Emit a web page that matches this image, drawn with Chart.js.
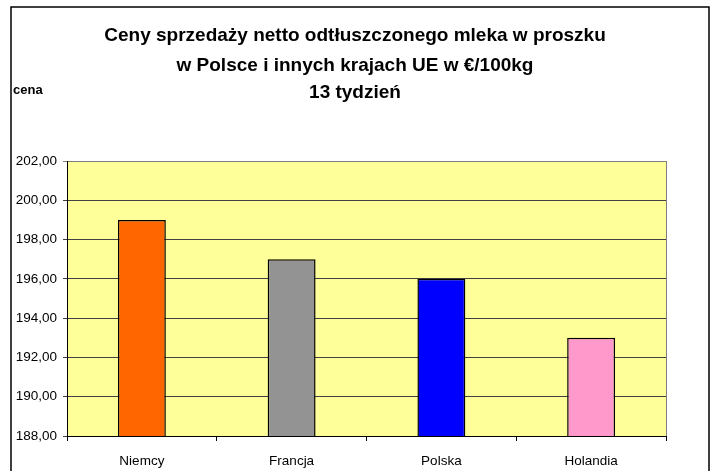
<!DOCTYPE html>
<html>
<head>
<meta charset="utf-8">
<script src="https://cdn.jsdelivr.net/npm/chart.js@4/dist/chart.umd.min.js"></script>
<style>
  html, body { margin: 0; padding: 0; background: #fff; }
  #wrap { width: 719px; height: 471px; position: relative; }
</style>
</head>
<body>
<div id="wrap"><canvas id="chart"></canvas></div>
<script>
// data
const countries = ['Niemcy', 'Francja', 'Polska', 'Holandia'];
const prices = [199, 197, 196, 193];
const barColors = ['#FF6600', '#939393', '#0000FF', '#FF99CC'];
const titleLines = [
    'Ceny sprzedaży netto odtłuszczonego mleka w proszku',
    'w Polsce i innych krajach UE w €/100kg',
    '13 tydzień'
];
const yLabel = 'cena';

const FONT = '"Liberation Sans", Arial, sans-serif';

// plot background, frame, title and the "cena" label
const decorations = {
    id: 'decorations',
    beforeDraw(chart) {
        const { ctx, chartArea: a } = chart;
        ctx.save();
        ctx.fillStyle = '#FFFF99';
        ctx.fillRect(a.left, a.top, a.right - a.left, a.bottom - a.top);
        ctx.restore();
    },
    afterDraw(chart) {
        const { ctx, chartArea: a } = chart;
        ctx.save();
        // plot area right border
        ctx.strokeStyle = '#808080';
        ctx.lineWidth = 1;
        ctx.beginPath();
        ctx.moveTo(a.right + 0.5, a.top);
        ctx.lineTo(a.right + 0.5, a.bottom);
        ctx.stroke();
        // outer chart frame
        ctx.strokeStyle = '#000';
        ctx.lineWidth = 1.5;
        ctx.beginPath();
        ctx.moveTo(11, 480);
        ctx.lineTo(11, 7);
        ctx.lineTo(709, 7);
        ctx.lineTo(709, 480);
        ctx.stroke();
        // title
        ctx.fillStyle = '#000';
        ctx.textBaseline = 'middle';
        ctx.textAlign = 'center';
        ctx.font = 'bold 19px ' + FONT;
        const lineY = [36, 66, 93];
        titleLines.forEach((t, i) => ctx.fillText(t, 355, lineY[i]));
        // axis caption
        ctx.textAlign = 'left';
        ctx.font = 'bold 13px ' + FONT;
        ctx.fillText(yLabel, 13, 90);
        ctx.restore();
    }
};

const ctx = document.getElementById('chart').getContext('2d');
new Chart(ctx, {
    type: 'bar',
    data: {
        labels: countries,
        datasets: [{
            data: prices,
            backgroundColor: barColors,
            borderColor: '#000',
            borderWidth: 1.5,
            borderSkipped: false,
            barPercentage: 0.32,
            categoryPercentage: 1
        }]
    },
    options: {
        responsive: true,
        maintainAspectRatio: false,
        animation: false,
        layout: { padding: { left: 12, right: 53, top: 161, bottom: 0 } },
        plugins: {
            legend: { display: false },
            tooltip: { enabled: false },
            title: { display: false }
        },
        scales: {
            x: {
                offset: true,
                grid: {
                    display: true,
                    offset: true,
                    drawOnChartArea: false,
                    tickLength: 5,
                    color: '#000'
                },
                border: { color: '#000', width: 1 },
                ticks: {
                    color: '#000',
                    padding: 12,
                    font: { family: FONT, size: 13.5 }
                },
                afterFit(scale) { scale.height = 35; }
            },
            y: {
                min: 188,
                max: 202,
                grid: {
                    color: ctx => ctx.tick && ctx.tick.value === 202 ? '#808080' : '#404040',
                    tickLength: 4,
                    lineWidth: 1
                },
                border: { color: '#000', width: 1 },
                ticks: {
                    stepSize: 2,
                    color: '#000',
                    padding: 6,
                    font: { family: FONT, size: 13.5 },
                    callback: v => v.toFixed(2).replace('.', ',')
                },
                afterFit(scale) { scale.width = 55; }
            }
        }
    },
    plugins: [decorations]
});
</script>
</body>
</html>
